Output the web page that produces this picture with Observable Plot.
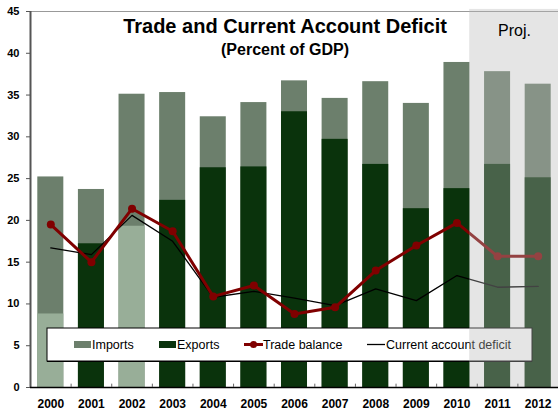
<!DOCTYPE html>
<html>
<head>
<meta charset="utf-8">
<script src="https://cdn.jsdelivr.net/npm/d3@7"></script>
<script src="https://cdn.jsdelivr.net/npm/@observablehq/plot@0.6"></script>
<style>
  html, body { margin: 0; padding: 0; background: #fff; }
  #chart { width: 558px; height: 412px; }
  svg { font-family: Arial, "Liberation Sans", sans-serif; }
</style>
</head>
<body>
<div id="chart"></div>
<script>
const years = ["2000","2001","2002","2003","2004","2005","2006","2007","2008","2009","2010","2011","2012"];
const imports = [25.2, 23.7, 35.1, 35.3, 32.4, 34.1, 36.7, 34.6, 36.6, 34.0, 38.9, 37.8, 36.3];
const exports = [8.8, 17.2, 19.3, 22.4, 26.3, 26.4, 33.0, 29.7, 26.7, 21.4, 23.8, 26.7, 25.1];
const tradeBalance = [19.5, 15.0, 21.4, 18.7, 10.9, 12.2, 8.8, 9.6, 14.0, 17.0, 19.7, 15.7, 15.7];
const currentAccount = [16.7, 15.9, 20.6, 17.5, 10.8, 11.5, 10.7, 9.8, 11.8, 10.4, 13.4, 12.0, 12.1];
const paleExportYears = ["2000", "2002"];
const projYears = ["2011"];
const yTicks = [0, 5, 10, 15, 20, 25, 30, 35, 40, 45];
const legendLabels = ["Imports", "Exports", "Trade balance", "Current account deficit"];
const titleText = "Trade and Current Account Deficit";
const subtitleText = "(Percent of GDP)";
const projText = "Proj.";

const cImports = "#6c7f6c";
const cExports = "#0a330c";
const cPale = "#98ae98";
const cRed = "#800000";

const rows = years.map((year, i) => ({
  year, imports: imports[i], exports: exports[i],
  trade: tradeBalance[i], ca: currentAccount[i],
  pale: paleExportYears.includes(year)
}));

const W = 558, H = 412, ML = 30, MR = 0, MT = 11, MB = 25;
const step = (W - ML - MR) / years.length;

function legend(index, scales, values, dimensions) {
  const g = d3.create("svg:g").attr("text-anchor", "start");
  const left = dimensions.marginLeft + 17;
  const right = dimensions.width - 26;
  const bottom = dimensions.height - dimensions.marginBottom - 26;
  const top = bottom - 33;
  const cy = (top + bottom) / 2;
  g.append("rect").attr("x", left).attr("y", top).attr("width", right - left).attr("height", bottom - top)
    .attr("fill", "#fff").attr("stroke", "#000").attr("stroke-width", 1);
  g.append("line").attr("x1", left).attr("x2", right).attr("y1", bottom + 0.5).attr("y2", bottom + 0.5)
    .attr("stroke", "#000").attr("stroke-width", 1);
  const font = 12.5;
  const addText = (x, s) => g.append("text").attr("x", x).attr("y", cy).attr("dy", "0.35em")
    .attr("font-size", font).attr("text-anchor", "start").attr("fill", "#000").text(s);
  let x = left + 27;
  g.append("rect").attr("x", x).attr("y", cy - 3.5).attr("width", 17).attr("height", 7).attr("fill", cImports);
  addText(x + 18, legendLabels[0]);
  x = left + 112;
  g.append("rect").attr("x", x).attr("y", cy - 3.5).attr("width", 17).attr("height", 7).attr("fill", cExports);
  addText(x + 18, legendLabels[1]);
  x = left + 197;
  g.append("line").attr("x1", x).attr("x2", x + 19).attr("y1", cy).attr("y2", cy).attr("stroke", cRed).attr("stroke-width", 3);
  g.append("circle").attr("cx", x + 9.5).attr("cy", cy).attr("r", 3.5).attr("fill", cRed);
  addText(x + 19, legendLabels[2]);
  x = left + 320;
  g.append("line").attr("x1", x).attr("x2", x + 18).attr("y1", cy).attr("y2", cy).attr("stroke", "#000").attr("stroke-width", 1.3);
  addText(x + 19, legendLabels[3]);
  return g.node();
}

const chart = Plot.plot({
  width: W, height: H,
  marginLeft: ML, marginRight: MR, marginTop: MT, marginBottom: MB,
  style: { fontFamily: "Arial, 'Liberation Sans', sans-serif", background: "#fff", overflow: "visible" },
  x: { type: "band", domain: years, padding: 0, round: false, label: null },
  y: { domain: [0, 45], label: null },
  marks: [
    Plot.ruleY([45], { stroke: "#999", strokeWidth: 1 }),
    Plot.barY(rows, { x: "year", y: "imports", fill: cImports, insetLeft: 7.3, insetRight: 7.3 }),
    Plot.barY(rows, { x: "year", y: "exports", fill: d => d.pale ? cPale : cExports, insetLeft: 7.3, insetRight: 7.3 }),
    Plot.line(rows, { x: "year", y: "ca", stroke: "#000", strokeWidth: 1.3 }),
    Plot.line(rows, { x: "year", y: "trade", stroke: cRed, strokeWidth: 3 }),
    Plot.dot(rows, { x: "year", y: "trade", fill: cRed, r: 4 }),
    legend,
    Plot.barY(projYears, { x: d => d, y1: 0, y2: 45.25, fill: "#b8b8b8", fillOpacity: 0.36, insetLeft: -7.6, insetRight: -41 }),
    Plot.ruleX([years[0]], { y1: 0, y2: 45, dx: -step / 2, stroke: "#555", strokeWidth: 2 }),
    Plot.ruleY([0], { stroke: "#000", strokeWidth: 1.5 }),
    Plot.ruleX(years.slice(0, -1), { y1: 0, y2: 0.4, dx: step / 2, stroke: "#666", strokeWidth: 1 }),
    Plot.axisY({ ticks: yTicks, tickSize: 4, tickPadding: 7, fontSize: 11, fontWeight: "bold", stroke: "#555", fill: "#000", label: null }),
    Plot.axisX({ tickSize: 0, tickPadding: 12, fontSize: 12, fontWeight: "bold", fill: "#000", label: null }),
    Plot.text([titleText], { frameAnchor: "top", dx: -9.5, dy: 15, lineAnchor: "middle", fontSize: 20, fontWeight: "bold", fill: "#000" }),
    Plot.text([subtitleText], { frameAnchor: "top", dx: -9.5, dy: 38, lineAnchor: "middle", fontSize: 16, fontWeight: "bold", fill: "#000" }),
    Plot.text([projText], { frameAnchor: "top-right", dx: -44, dy: 19.5, lineAnchor: "middle", textAnchor: "middle", fontSize: 16, fill: "#000" })
  ]
});
document.getElementById("chart").appendChild(chart);
</script>
</body>
</html>
